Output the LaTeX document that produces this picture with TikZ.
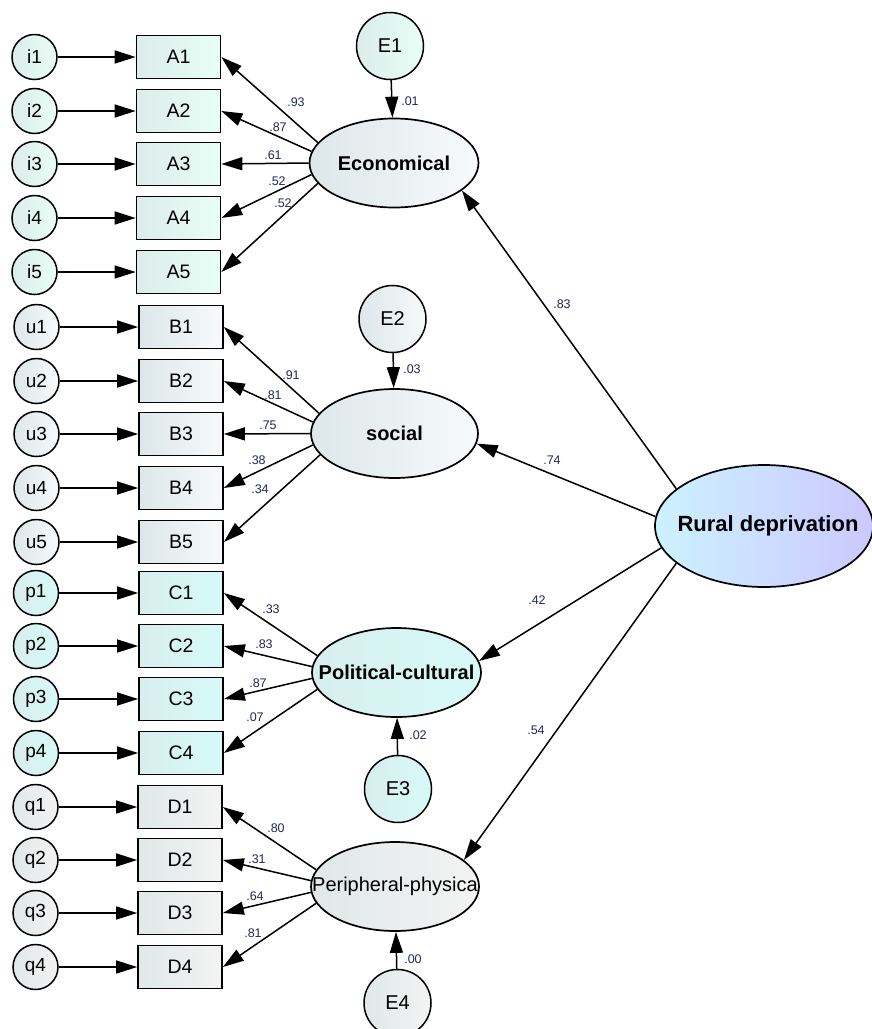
\documentclass[tikz,border=0pt]{standalone}
\usepackage{fontspec}
\setmainfont{Liberation Sans}
\usetikzlibrary{shapes.geometric,arrows.meta}
\definecolor{coefc}{RGB}{30,40,85}
\definecolor{mintL}{HTML}{DCECEA}
\definecolor{mintR}{HTML}{E8FFF6}
\definecolor{greyL}{HTML}{DDE7EA}
\definecolor{greyR}{HTML}{F7FAFB}
\definecolor{cyanL}{HTML}{D8EEEE}
\definecolor{cyanR}{HTML}{D6FAF8}
\definecolor{grayL}{HTML}{E0E8E8}
\definecolor{grayR}{HTML}{F3F3F3}
\definecolor{ruralL}{HTML}{CCF2FF}
\definecolor{ruralR}{HTML}{CCC8FF}
\newcommand{\zw}[1]{\makebox[0pt]{#1}}
\tikzset{
  errc/.style={circle, draw, line width=1.5pt, minimum size=45pt, inner sep=0pt, font=\fontsize{19}{20}\selectfont},
  obs/.style={rectangle, draw, line width=1.7pt, minimum width=84pt, minimum height=43pt, inner sep=0pt, font=\fontsize{19.5}{20}\selectfont},
  lat/.style={ellipse, draw, line width=1.7pt, minimum width=169pt, minimum height=89pt, inner sep=0pt, font=\bfseries\fontsize{20}{22}\selectfont},
  dist/.style={circle, draw, line width=1.5pt, minimum size=67pt, inner sep=0pt, font=\fontsize{20}{21}\selectfont},
  arr/.style={-{Triangle[length=21pt,width=13pt]}, line width=1.5pt},
  coef/.style={font=\fontsize{12.5}{13}\selectfont, text=coefc, inner sep=0pt},
  gA/.style={left color=mintL, right color=mintR},
  gB/.style={left color=greyL, right color=greyR},
  gC/.style={left color=cyanL, right color=cyanR},
  gD/.style={left color=grayL, right color=grayR},
}
\begin{document}
\begin{tikzpicture}[x=1pt,y=-1pt]
\useasboundingbox (0,0) rectangle (871,1029);
% latent variables
\node[lat, gB] (econ) at (394,163) {\zw{Economical}};
\node[lat, gB, minimum width=167pt] (social) at (394.5,433.5) {\zw{social}};
\node[lat, gC] (polit) at (396.5,672.5) {\zw{Political-cultural}};
\node[lat, gD, minimum width=168pt, font=\fontsize{20}{22}\selectfont] (periph) at (395,886.5) {\zw{Peripheral-physica}};
\node[lat, left color=ruralL, right color=ruralR, minimum width=218pt, minimum height=122pt, font=\bfseries\fontsize{22}{24}\selectfont] (rural) at (764,526) {\zw{\hspace*{8pt}Rural deprivation}};
% disturbances
\node[dist, gA] (E1) at (390,46) {E1};
\node[dist, gB] (E2) at (392.5,319) {E2};
\node[dist, gC] (E3) at (398,789) {E3};
\node[dist, gD] (E4) at (397.5,1003) {E4};
% group A
\foreach \n/\y in {1/57,2/111,3/164,4/218,5/272}{
  \node[errc, gA] (i\n) at (34.5,\y) {i\n};
  \node[obs, gA] (A\n) at (178.5,\y) {A\n};
  \draw[arr] (i\n) -- (A\n);
}
% group B
\foreach \n/\y in {1/327,2/381,3/434,4/488,5/542}{
  \node[errc, gB] (u\n) at (36.5,\y) {u\n};
  \node[obs, gB] (B\n) at (181,\y) {B\n};
  \draw[arr] (u\n) -- (B\n);
}
% group C
\foreach \n/\y in {1/593,2/646,3/699,4/753}{
  \node[errc, gC] (p\n) at (36,\y) {p\n};
  \node[obs, gC] (C\n) at (181,\y) {C\n};
  \draw[arr] (p\n) -- (C\n);
}
% group D
\foreach \n/\y in {1/807,2/860,3/913,4/967}{
  \node[errc, gD] (q\n) at (35.5,\y) {q\n};
  \node[obs, gD] (D\n) at (180,\y) {D\n};
  \draw[arr] (q\n) -- (D\n);
}
% loadings
\draw[arr] (econ.165) -- (A1.east);
\draw[arr] (econ.172.5) -- (A2.east);
\draw[arr] (econ.180) -- (A3.east);
\draw[arr] (econ.188) -- (A4.east);
\draw[arr] (econ.195) -- (A5.east);
\draw[arr] (social.165) -- (B1.east);
\draw[arr] (social.172.5) -- (B2.east);
\draw[arr] (social.180) -- (B3.east);
\draw[arr] (social.188.5) -- (B4.east);
\draw[arr] (social.196) -- (B5.east);
\draw[arr] (polit.168) -- (C1.east);
\draw[arr] (polit.176) -- (C2.east);
\draw[arr] (polit.184) -- (C3.east);
\draw[arr] (polit.192) -- (C4.east);
\draw[arr] (periph.168) -- (D1.east);
\draw[arr] (periph.176) -- (D2.east);
\draw[arr] (periph.184) -- (D3.east);
\draw[arr] (periph.192) -- (D4.east);
% disturbances arrows
\draw[arr] (E1) -- (econ);
\draw[arr] (E2) -- (social);
\draw[arr] (E3) -- (polit);
\draw[arr] (E4) -- (periph);
% structural paths
\draw[arr] (rural.157) -- (econ.338);
\draw[arr] (rural.175) -- (social.353.5);
\draw[arr] (rural.192) -- (polit.8.7);
\draw[arr] (rural.203) -- (periph.21.5);
% coefficients
\node[coef] (c93) at (296,102) {.93};
\node[coef] (c87a) at (278,127) {.87};
\node[coef] (c61) at (273,155) {.61};
\node[coef] (c52a) at (277,181) {.52};
\node[coef] (c52b) at (283,203) {.52};
\node[coef] (c01) at (410,101) {.01};
\node[coef] (c83a) at (562,304) {.83};
\node[coef] (c91) at (291,375) {.91};
\node[coef] (c81a) at (273,395) {.81};
\node[coef] (c75) at (268,425) {.75};
\node[coef] (c38) at (257,460) {.38};
\node[coef] (c34) at (260,489) {.34};
\node[coef] (c03) at (412,369) {.03};
\node[coef] (c74) at (552,460) {.74};
\node[coef] (c42) at (537,600) {.42};
\node[coef] (c54) at (536,730) {.54};
\node[coef] (c33) at (271,609) {.33};
\node[coef] (c83b) at (264,644) {.83};
\node[coef] (c87b) at (258,683) {.87};
\node[coef] (c07) at (255,717) {.07};
\node[coef] (c02) at (418,735) {.02};
\node[coef] (c80) at (276,828) {.80};
\node[coef] (c31) at (257,859) {.31};
\node[coef] (c64) at (255,896) {.64};
\node[coef] (c81b) at (253,933) {.81};
\node[coef] (c00) at (413,959) {.00};
\end{tikzpicture}
\end{document}
